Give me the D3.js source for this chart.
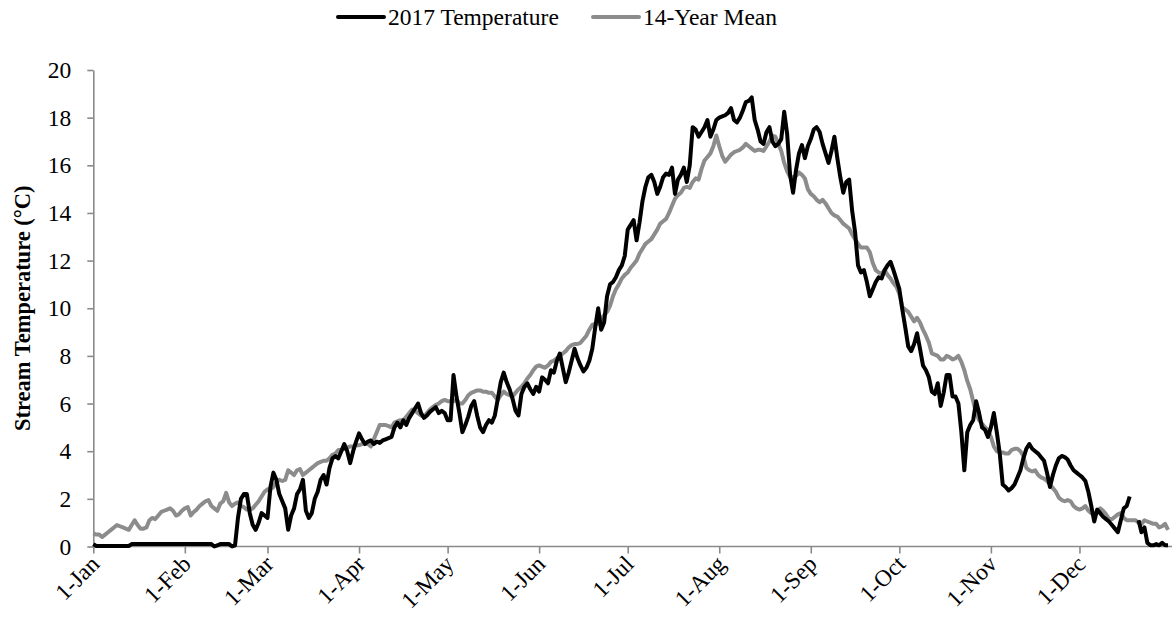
<!DOCTYPE html>
<html>
<head>
<meta charset="utf-8">
<script src="https://cdn.jsdelivr.net/npm/d3@7"></script>
<style>
  html, body { margin: 0; padding: 0; background: #fff; }
  svg { display: block; }
  text { font-family: "Liberation Serif", "Times New Roman", serif; fill: #000; }
</style>
</head>
<body>
<svg id="chart" width="1172" height="626"></svg>
<script>
// Daily stream temperature (°C), 1 Jan – 31 Dec; null = logger gap
const temp2017 = [
  0.1,0.02,0.02,0.02,0.02,0.02,0.02,0.02,0.02,0.02,
  0.02,0.02,0.02,0.1,0.1,0.1,0.1,0.1,0.1,0.1,
  0.1,0.1,0.1,0.1,0.1,0.1,0.1,0.1,0.1,0.1,
  0.1,0.1,0.1,0.1,0.1,0.1,0.1,0.1,0.1,0.1,
  0.1,0.0,0.05,0.1,0.1,0.1,0.1,0.0,0.05,1.2,
  2.0,2.2,2.2,1.4,0.9,0.7,1.0,1.4,1.3,1.2,
  2.5,3.1,2.8,2.2,1.9,1.6,0.7,1.3,1.6,2.2,
  2.4,2.8,1.5,1.2,1.4,2.0,2.3,2.8,3.0,2.6,
  3.3,3.7,3.8,3.7,4.0,4.3,4.0,3.5,4.0,4.4,
  4.75,4.5,4.3,4.4,4.45,4.3,4.4,4.35,4.45,4.5,
  4.55,4.6,5.0,5.2,5.0,5.3,5.1,5.4,5.6,5.8,
  6.0,5.6,5.4,5.5,5.65,5.75,5.85,5.6,5.7,5.6,
  5.3,5.3,7.2,6.3,5.6,4.8,5.1,5.45,5.9,6.1,
  5.5,5.0,4.8,5.1,5.3,5.2,5.5,6.2,6.9,7.3,
  6.9,6.6,6.2,5.7,5.5,6.4,6.7,6.85,6.6,6.4,
  6.7,6.5,7.1,7.0,6.85,7.4,7.3,7.8,8.1,7.5,
  6.9,7.3,7.8,8.3,7.9,7.6,7.35,7.5,7.8,8.3,
  9.2,10.0,9.1,9.4,10.5,11.0,11.1,11.3,11.6,11.8,
  12.2,13.3,13.5,13.7,12.85,13.6,14.5,15.1,15.5,15.6,
  15.3,14.8,15.1,15.5,15.65,15.6,15.9,14.8,15.4,15.6,
  15.9,15.3,16.0,17.6,17.5,17.2,17.4,17.6,17.9,17.2,
  17.5,17.9,18.0,18.05,18.1,18.2,18.4,17.9,17.8,18.0,
  18.3,18.65,18.7,18.85,17.9,17.5,17.0,16.9,17.4,17.6,
  17.0,16.8,16.9,17.1,18.25,17.3,15.6,14.85,15.8,16.5,
  16.85,16.3,16.8,17.1,17.5,17.6,17.4,16.9,16.5,16.1,
  16.6,17.2,16.3,15.5,14.85,15.3,15.4,14.1,13.2,11.8,
  11.5,11.6,11.1,10.5,10.8,11.1,11.3,11.25,11.6,11.8,
  11.95,11.6,11.2,10.8,9.95,9.2,8.4,8.2,8.5,8.95,
  8.3,7.6,7.4,7.1,6.5,6.4,6.85,5.9,6.45,7.2,
  7.2,6.3,6.3,6.0,4.8,3.2,4.8,5.1,5.3,6.1,
  5.6,5.0,4.9,4.6,5.0,5.6,4.8,3.9,2.6,2.5,
  2.35,2.45,2.6,2.9,3.2,3.7,4.1,4.3,4.1,4.0,
  3.9,3.75,3.6,3.1,2.5,3.0,3.4,3.7,3.8,3.75,
  3.65,3.4,3.2,3.1,3.0,2.9,2.75,2.3,1.7,1.05,
  1.55,1.4,1.25,1.15,1.05,0.9,0.75,0.6,1.1,1.6,
  1.7,2.1,null,null,1.1,0.6,0.8,0.15,0.05,0.05,
  0.1,0.05,0.15,0.05,0.05
];

const mean14yr = [
  0.55,0.5,0.5,0.4,0.5,0.6,0.7,0.8,0.9,0.85,
  0.8,0.75,0.7,0.9,1.1,0.9,0.75,0.75,0.8,1.1,
  1.2,1.15,1.3,1.45,1.5,1.55,1.6,1.5,1.3,1.35,
  1.5,1.6,1.65,1.3,1.45,1.55,1.7,1.8,1.9,1.95,
  1.7,1.6,1.5,1.8,1.9,2.25,1.85,1.7,1.8,1.85,
  1.7,1.65,1.55,1.55,1.6,1.75,1.9,2.1,2.3,2.4,
  2.4,2.5,2.7,2.8,2.75,2.8,3.2,3.1,3.0,3.2,
  3.25,3.0,3.1,3.2,3.3,3.4,3.5,3.55,3.6,3.6,
  3.7,3.85,3.9,4.05,4.05,4.1,4.15,4.2,4.2,4.25,
  4.25,4.3,4.35,4.3,4.2,4.5,4.8,5.1,5.1,5.1,
  5.05,5.0,5.2,5.25,5.3,5.3,5.45,5.6,5.75,5.7,
  5.6,5.5,5.45,5.6,5.75,5.85,5.95,6.0,6.1,6.15,
  6.1,6.1,6.1,6.15,6.0,6.0,6.15,6.35,6.45,6.5,
  6.55,6.55,6.5,6.5,6.45,6.45,6.3,6.15,6.35,6.5,
  6.4,6.35,6.3,6.45,6.6,6.7,6.85,7.05,7.2,7.4,
  7.55,7.6,7.55,7.5,7.6,7.75,7.8,7.9,8.0,8.1,
  8.2,8.35,8.45,8.5,8.5,8.55,8.7,8.85,9.1,9.3,
  9.35,9.35,9.55,9.7,9.85,10.1,10.5,10.8,11.0,11.25,
  11.4,11.5,11.7,11.85,12.0,12.3,12.5,12.7,12.8,12.9,
  13.1,13.3,13.55,13.65,13.75,14.0,14.3,14.6,14.75,14.85,
  15.05,15.1,15.05,15.3,15.45,15.4,15.85,16.2,16.35,16.5,
  16.8,17.25,16.8,16.4,16.15,16.3,16.45,16.55,16.6,16.65,
  16.75,16.9,16.8,16.7,16.6,16.65,16.65,16.6,16.8,17.0,
  17.25,17.2,16.9,16.6,16.1,15.75,15.5,15.5,15.55,15.7,
  15.6,15.45,15.0,14.8,14.7,14.55,14.45,14.55,14.4,14.2,
  14.0,13.9,13.85,13.7,13.55,13.45,13.35,13.1,12.9,12.7,
  12.55,12.55,12.55,12.35,11.9,11.6,11.5,11.45,11.6,11.4,
  11.25,11.05,10.9,10.6,10.05,9.95,9.85,9.65,9.45,9.6,
  9.4,9.1,8.85,8.55,8.1,8.05,8.0,7.85,7.85,8.0,
  7.95,7.85,7.9,8.0,7.75,7.4,6.95,6.6,6.1,5.6,
  5.3,5.15,5.0,4.9,4.6,4.2,4.0,3.95,3.95,3.9,
  3.9,4.05,4.1,4.1,4.0,3.8,3.3,3.2,3.15,3.2,
  3.0,2.9,2.85,2.75,2.6,2.45,2.3,2.05,1.95,1.9,
  1.95,1.9,1.7,1.6,1.55,1.6,1.7,1.5,1.4,1.35,
  1.45,1.6,1.5,1.35,1.15,1.15,1.25,1.35,1.4,1.2,
  1.1,1.1,1.1,1.1,1.0,0.95,1.1,1.05,1.0,0.95,
  0.95,0.8,0.85,0.95,0.7
];

const monthLabels = ["1-Jan","1-Feb","1-Mar","1-Apr","1-May","1-Jun",
                     "1-Jul","1-Aug","1-Sep","1-Oct","1-Nov","1-Dec"];
const yTicks = [0,2,4,6,8,10,12,14,16,18,20];
const seriesNames = ["2017 Temperature", "14-Year Mean"];
const yTitle = "Stream Temperature (°C)";

const svg = d3.select("#chart");
const yearStart = Date.UTC(2017, 0, 1);
const dayDate = i => new Date(yearStart + i * 864e5);

const x = d3.scaleUtc()
  .domain([new Date(Date.UTC(2017,0,1)), new Date(Date.UTC(2018,0,1))])
  .range([93.3, 1171]);
const y = d3.scaleLinear().domain([0, 20]).range([546.5, 70]);

const axisColor = "#8a8a8a";
const monthStarts = d3.range(12).map(m => new Date(Date.UTC(2017, m, 1)));

// x axis
const gx = svg.append("g").attr("transform", `translate(0,${y(0)})`)
  .call(d3.axisBottom(x).tickValues(monthStarts)
    .tickFormat((d, i) => monthLabels[i]).tickSize(7).tickSizeOuter(0));
gx.select(".domain").attr("d", `M${x.range()[0]},0H1172`);
gx.selectAll("line, .domain").attr("stroke", axisColor).attr("stroke-width", 1.6);
gx.selectAll("text")
  .attr("font-size", 23.5)
  .attr("text-anchor", "end")
  .attr("dy", null)
  .attr("y", null)
  .attr("transform", "translate(7,19) rotate(-45)");

// y axis
const gy = svg.append("g").attr("transform", `translate(${x.range()[0]},0)`)
  .call(d3.axisLeft(y).tickValues(yTicks).tickSize(6).tickPadding(16).tickSizeOuter(0));
gy.selectAll("line, .domain").attr("stroke", axisColor).attr("stroke-width", 1.6);
gy.selectAll("text").attr("font-size", 23.5);

svg.append("text")
  .attr("transform", `translate(30,${(y(0)+y(20))/2}) rotate(-90)`)
  .attr("text-anchor", "middle")
  .attr("font-size", 22.5)
  .attr("font-weight", "bold")
  .text(yTitle);

// series
const line = d3.line()
  .defined(d => d.v !== null)
  .x(d => x(d.date))
  .y(d => y(d.v));

const toPts = arr => arr.map((v, i) => ({ date: dayDate(i), v }));

svg.append("path").datum(toPts(mean14yr))
  .attr("fill", "none").attr("stroke", "#8c8c8c")
  .attr("stroke-width", 4).attr("stroke-linejoin", "round")
  .attr("d", line);

svg.append("path").datum(toPts(temp2017))
  .attr("fill", "none").attr("stroke", "#000")
  .attr("stroke-width", 4).attr("stroke-linejoin", "round")
  .attr("d", line);

// legend
const legend = [
  { name: seriesNames[0], color: "#000", x0: 338 },
  { name: seriesNames[1], color: "#8c8c8c", x0: 593 }
];
const lg = svg.append("g");
legend.forEach(l => {
  lg.append("line").attr("x1", l.x0).attr("x2", l.x0 + 46)
    .attr("y1", 17).attr("y2", 17)
    .attr("stroke", l.color).attr("stroke-width", 4).attr("stroke-linecap", "round");
  lg.append("text").attr("x", l.x0 + 50).attr("y", 25)
    .attr("font-size", 23.5).text(l.name);
});
</script>
</body>
</html>
